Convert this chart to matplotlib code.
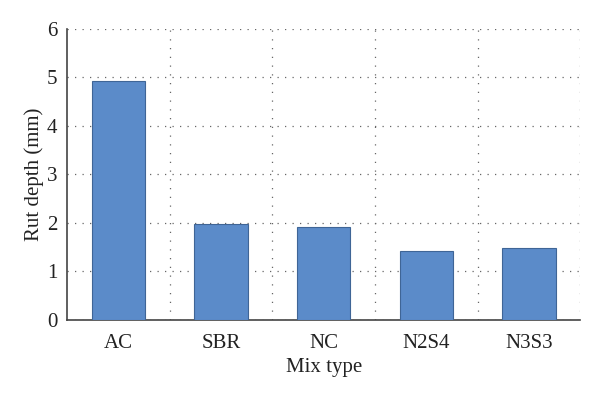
import numpy as np
import matplotlib
matplotlib.use("Agg")
import matplotlib.pyplot as plt

plt.rcParams['font.family'] = ['Liberation Serif', 'DejaVu Serif']

# rut depth per mix type
mixes = ["AC", "SBR", "NC", "N2S4", "N3S3"]
rut_depth = [4.93, 1.98, 1.92, 1.43, 1.48]
yticks = [0, 1, 2, 3, 4, 5, 6]

fig = plt.figure(figsize=(6, 3.96), dpi=100)
ax = fig.add_axes([0.112, 0.192, 0.855, 0.735])

x = np.arange(len(mixes))
ax.bar(x, rut_depth, width=0.52, color="#5b8bc9", edgecolor="#3f6596", linewidth=0.8, zorder=3)

ax.set_xlim(-0.5, len(mixes) - 0.5)
ax.set_ylim(0, 6)
ax.set_yticks(yticks)
ax.set_xticks(x)
ax.set_xticklabels(mixes)

# dotted grid at category boundaries and integer depths
ax.set_xticks(np.arange(len(mixes)) + 0.5, minor=True)
ax.grid(axis="x", which="minor", linestyle=(0, (1, 6)), color="#666666", linewidth=0.9)
ax.grid(axis="y", which="major", linestyle=(0, (1, 5)), color="#666666", linewidth=0.9)
ax.tick_params(which="both", length=0, labelsize=15, colors="#222222")
ax.tick_params(axis="y", pad=7)
ax.tick_params(axis="x", pad=10)

for s in ["top", "right"]:
    ax.spines[s].set_visible(False)
for s in ["left", "bottom"]:
    ax.spines[s].set_color("#444444")
    ax.spines[s].set_linewidth(1.2)

ax.set_xlabel("Mix type", fontsize=15, color="#222222", labelpad=4)
ax.set_ylabel("Rut depth (mm)", fontsize=15, color="#222222", labelpad=2)

fig.savefig("out.png", dpi=100)
